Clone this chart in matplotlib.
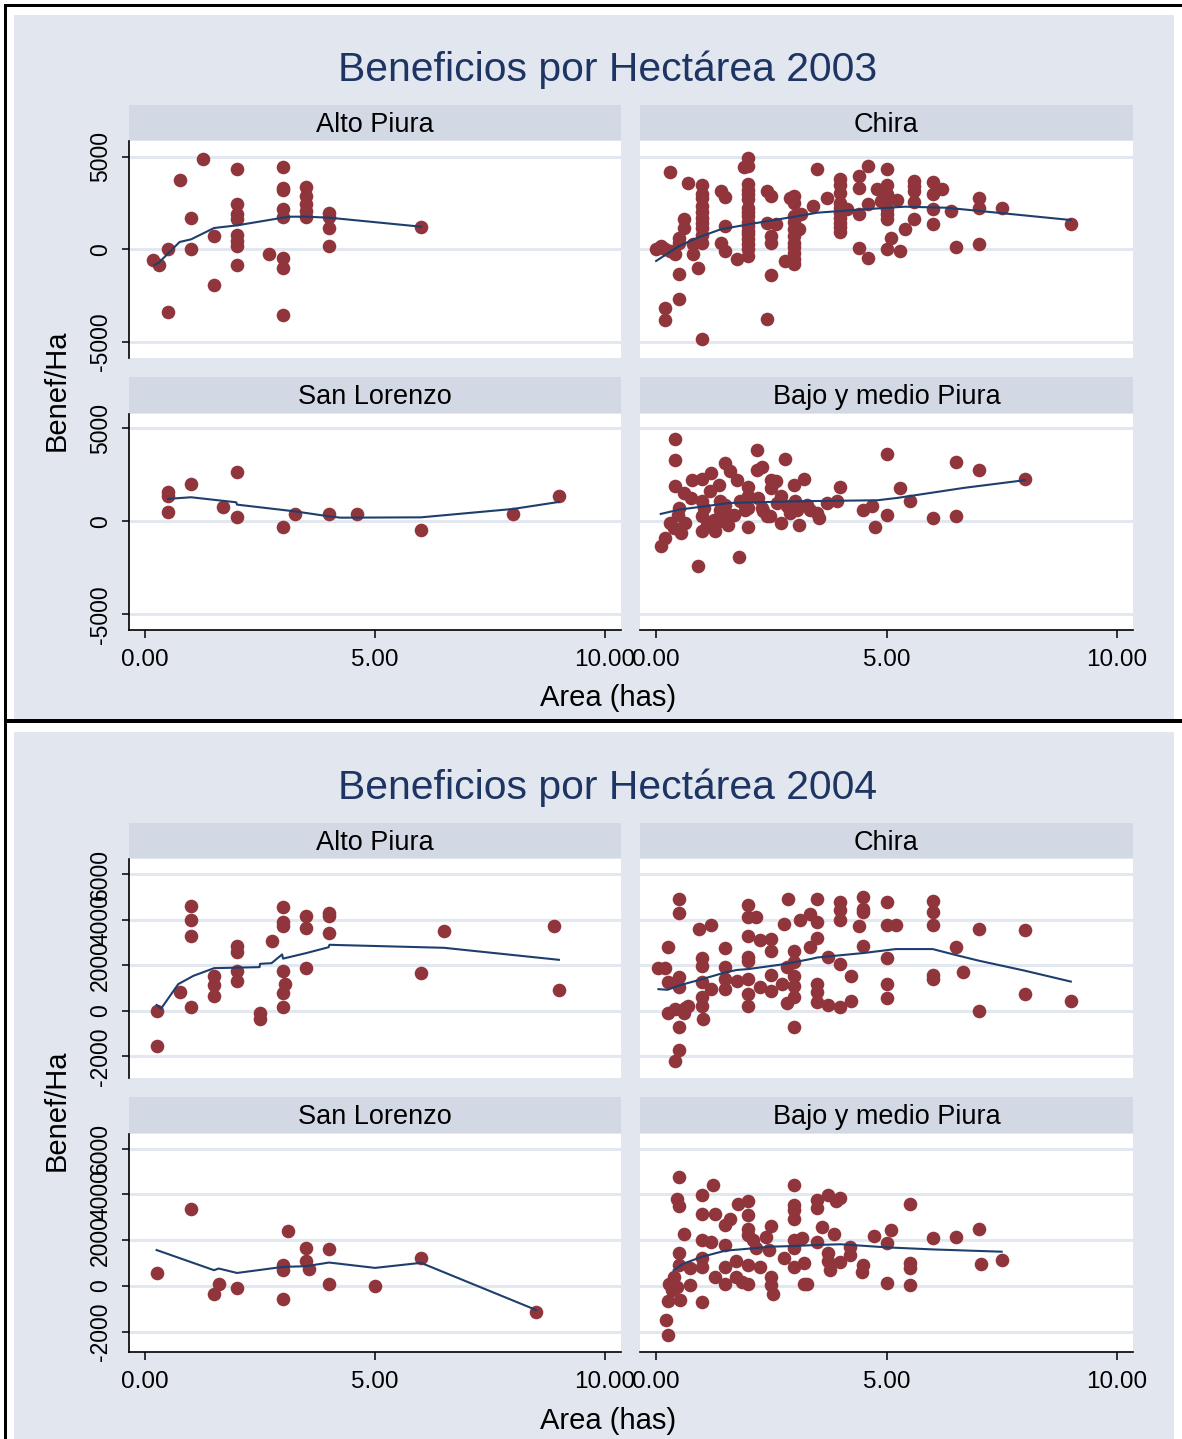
import matplotlib
matplotlib.use('Agg')
import matplotlib.pyplot as plt
from matplotlib.patches import Rectangle

plt.rcParams['font.family'] = ['Liberation Sans', 'DejaVu Sans']

# ---------------- DATA ----------------
regions = ["Alto Piura", "Chira", "San Lorenzo", "Bajo y medio Piura"]
titles = ["Beneficios por Hectárea 2003", "Beneficios por Hectárea 2004"]
xtick_vals = [0, 5, 10]
xtick_labels = ["0.00", "5.00", "10.00"]
yticks_2003 = [-5000, 0, 5000]
yticks_2004 = [-2000, 0, 2000, 4000, 6000]

# 2003 - Alto Piura
ap03_x = [1.25, 0.75, 2, 3, 3, 3, 3.5, 3.5, 3.5, 3.5, 3.5, 2, 2, 2, 3, 3, 1, 4, 4, 4, 4, 6,
          1.5, 2, 2, 2, 0.5, 1, 0.17, 0.3, 2, 2.7, 3, 3, 1.5, 0.5, 3]
ap03_y = [4865, 3730, 4324, 4450, 3333, 3200, 3387, 2883, 2432, 2072, 1765, 2432, 1892, 1658,
          2162, 1765, 1694, 1982, 1765, 1171, 180, 1225, 721, 757, 450, 180, 36, 36, -577, -865,
          -847, -270, -450, -991, -1946, -3405, -3550]
ap03_fx = [0.2, 0.3, 0.75, 1.0, 1.5, 2.0, 3.0, 3.15, 3.5, 4.0, 6.0]
ap03_fy = [-850, -720, 396, 540, 1153, 1297, 1712, 1765, 1765, 1712, 1225]

# 2003 - Chira
ch03_x = [0.3, 0.7, 1.0, 1.4, 1.5, 1.0, 1.0, 1.0, 1.0, 1.0, 0.6, 0.6, 0.5, 0.5, 0.0, 0.1, 0.2,
          0.3, 0.4, 0.8, 0.8, 0.5, 0.9, 0.5, 0.2, 0.2, 1.0, 1.4, 1.5, 1.5, 1.75, 2.0, 1.9, 2.0,
          2.0, 2.0, 2.0, 2.0, 2.0, 2.0, 2.0, 2.0, 2.4, 2.5, 2.4, 2.5, 2.5, 2.6, 2.5, 2.4, 2.8,
          3.0, 2.9, 3.0, 3.0, 3.0, 3.0, 3.0, 3.15, 3.1, 3.4, 3.5, 3.7, 4.0, 4.0, 4.0, 4.0, 4.0,
          4.0, 4.15, 4.4, 4.4, 4.6, 4.6, 4.4, 4.4, 4.6, 4.8, 5.0, 5.0, 5.0, 5.0, 5.0, 4.87, 5.23,
          5.1, 5.4, 5.0, 5.3, 5.6, 5.6, 5.6, 5.6, 6.0, 6.0, 6.0, 6.0, 6.2, 6.4, 6.5, 7.0, 7.0,
          7.0, 7.5, 9.0,
          2.0, 2.0, 2.0, 2.0, 2.0, 2.0, 2.0, 1.0, 1.0, 1.0, 1.0, 3.0, 3.0, 3.0, 3.0, 3.0,
          4.0, 4.0, 4.0, 4.0, 5.0, 5.0, 5.6]
ch03_y = [4180, 3603, 3459, 3153, 2850, 2790, 2340, 1710, 1170, 360, 1622, 1170, 630, 360, 40,
          180, 0, -90, -270, -270, 270, -1351, -991, -2703, -3153, -3820, -4829, 360, -90, 1260,
          -505, 4955, 4480, 4504, 3510, 2970, 2250, 1802, 1260, 811, 270, -360, 3153, 2883, 1440,
          721, 360, 1351, -1405, -3784, -630, 2883, 2760, 1802, 1081, 360, -180, -810, 1890, 1110,
          2340, 4360, 2790, 3820, 3060, 2520, 1982, 1440, 937, 2200, 3960, 3330, 4504, 2432, 1890,
          90, -450, 3279, 4360, 3500, 2700, 2160, 1660, 2610, 2650, 630, 1081, 40, -90, 3710, 3160,
          2560, 1622, 3650, 2970, 2162, 1351, 3279, 2070, 130, 2790, 2250, 270, 2250, 1351,
          3200, 2700, 2000, 1500, 1000, 550, 0, 3000, 2000, 1450, 800, 2500, 1500, 700, 100, -500,
          3500, 2250, 1700, 1200, 3000, 1900, 3400]
ch03_fx = [0.0, 0.5, 0.9, 1.4, 2.0, 3.0, 3.5, 4.5, 5.4, 6.3, 7.4, 9.0]
ch03_fy = [-631, 180, 630, 1081, 1351, 1765, 1982, 2162, 2306, 2250, 1982, 1585]

# 2003 - San Lorenzo
sl03_x = [0.5, 0.5, 0.5, 1.0, 2.0, 1.7, 2.0, 3.0, 3.25, 4.0, 4.6, 6.0, 8.0, 9.0]
sl03_y = [1568, 1351, 487, 2037, 2649, 775, 236, -324, 378, 414, 414, -486, 378, 1351]
sl03_fx = [0.5, 1.0, 1.98, 2.0, 3.25, 4.0, 4.25, 6.0, 8.0, 9.0]
sl03_fy = [1210, 1297, 1027, 900, 540, 270, 198, 216, 667, 1045]

# 2003 - Bajo y medio Piura
bm03_x = [0.4, 0.4, 0.4, 0.1, 0.2, 0.3, 0.5, 0.55, 0.63, 0.6, 0.75, 0.77, 1.0, 1.2, 0.9, 1.0,
          1.0, 1.0, 1.17, 1.28, 1.25, 1.36, 1.5, 1.6, 1.5, 1.57, 1.75, 1.68, 1.8, 2.0, 2.0, 1.93,
          2.0, 2.2, 2.2, 2.3, 2.22, 2.33, 2.4, 2.5, 2.5, 2.6, 2.7, 2.7, 2.8, 2.84, 3.0, 3.02, 3.1,
          3.2, 3.27, 3.53, 3.7, 3.93, 4.0, 4.5, 4.76, 4.69, 5.0, 5.0, 5.3, 5.5, 6.0, 6.5, 6.5,
          7.0, 8.0,
          1.03, 1.1, 1.39, 1.39, 1.82, 2.0, 2.3, 2.48, 2.62, 2.91, 3.05, 3.35, 3.5, 0.48, 0.38,
          1.39, 1.61]
bm03_y = [4450, 3297, 1928, -1315, -900, -90, 721, -627, -90, 1535, 1260, 2252, 2300, 2613,
          -2395, -540, 270, 1081, 1622, -540, 90, 1960, 3117, 2700, 901, -180, 2250, 360, -1925,
          1850, 1351, 630, -324, 3838, 2776, 2950, 1260, 540, 270, 2250, 1802, 2160, 1351, -90,
          3370, 811, 1964, 1081, -180, 2300, 900, 180, 990, 1081, 1838, 630, -324, 810, 360, 3640,
          1802, 1081, 180, 3189, 270, 2739, 2290,
          721, -180, 630, 0, 1081, 721, 721, 270, 1000, 450, 630, 630, 450, 360, -360, 1081, 360]
bm03_fx = [0.1, 0.5, 1.6, 3.05, 4.8, 5.23, 6.68, 8.0]
bm03_fy = [400, 630, 990, 1081, 1135, 1260, 1802, 2216]

# 2004 - Alto Piura
ap04_x = [0.25, 0.25, 0.75, 1.0, 1.0, 1.0, 1.0, 1.5, 1.5, 1.5, 2.0, 2.0, 2.0, 2.0, 2.5, 2.5,
          2.75, 3.0, 3.0, 3.0, 3.0, 3.05, 3.0, 3.0, 3.5, 3.5, 3.5, 4.0, 4.0, 4.0, 6.0, 6.5, 8.9,
          9.0]
ap04_y = [18, -1524, 853, 4598, 4008, 3290, 176, 1542, 1145, 660, 2835, 2600, 1749, 1295, -70,
          -335, 3057, 4555, 3894, 3718, 1749, 1189, 780, 194, 4185, 3643, 1868, 4304, 4158, 3409,
          1660, 3524, 3718, 898]
ap04_fx = [0.25, 0.35, 0.72, 1.05, 1.5, 2.49, 2.5, 2.75, 2.98, 3.0, 3.5, 3.99, 4.01, 6.5, 9.0]
ap04_fy = [260, 106, 1176, 1542, 1880, 1925, 2070, 2100, 2484, 2300, 2540, 2800, 2907, 2775,
           2247]

# 2004 - Chira
ch04_x = [0.5, 0.5, 0.05, 0.2, 0.25, 0.25, 0.25, 0.5, 0.5, 0.4, 0.5, 0.5, 0.4, 0.63, 0.7, 0.6,
          0.93, 1.0, 1.0, 1.0, 1.0, 1.0, 1.02, 1.2, 1.2, 1.5, 1.5, 1.5, 1.5, 1.75, 2.0, 2.0, 2.0,
          2.0, 2.0, 2.0, 2.0, 2.0, 2.17, 2.26, 2.26, 2.5, 2.5, 2.5, 2.5, 2.73, 2.78, 2.87, 2.85,
          2.85, 3.0, 3.0, 3.0, 3.0, 3.0, 3.0, 3.13, 3.35, 3.35, 3.5, 3.5, 3.5, 3.5, 3.5, 3.5,
          3.74, 3.74, 4.0, 4.0, 4.0, 4.0, 4.0, 4.24, 4.24, 4.4, 4.5, 4.5, 4.5, 4.5, 5.0, 5.0, 5.2,
          5.0, 5.0, 5.0, 6.0, 6.0, 6.0, 6.0, 6.0, 6.5, 6.65, 7.0, 7.0, 8.0, 8.0, 9.0]
ch04_y = [4920, 4304, 1868, 1868, 2793, 1251, -70, 1470, 1070, 70, -687, -1718, -2203, 150, 220,
          -70, 3600, 2308, 1980, 1251, 590, 220, -335, 3780, 956, 2750, 1910, 1400, 956, 1320,
          4650, 4113, 3277, 2350, 2200, 1400, 737, 220, 4113, 3130, 1030, 3158, 2643, 1570, 880,
          1176, 3819, 4920, 1910, 367, 2643, 2130, 1545, 1100, 590, -687, 4008, 4260, 2793, 4920,
          3920, 3190, 1176, 810, 400, 2390, 250, 4800, 4450, 4008, 2057, 194, 1516, 440, 3718,
          4990, 4480, 4330, 2863, 4800, 3780, 3780, 2308, 1200, 560, 4850, 4360, 3780, 1570, 1420,
          2793, 1692, 3600, 0, 3570, 737, 440]
ch04_fx = [0.05, 0.25, 0.5, 1.0, 1.5, 1.75, 2.0, 2.78, 3.35, 3.5, 4.5, 5.2, 6.0, 6.5, 7.0, 8.0,
           9.0]
ch04_fy = [956, 930, 1120, 1400, 1692, 1800, 1840, 2057, 2280, 2350, 2545, 2720, 2720, 2460,
           2210, 1770, 1290]

# 2004 - San Lorenzo
sl04_x = [0.25, 1.0, 1.6, 1.5, 2.0, 3.0, 3.0, 3.1, 3.0, 3.5, 3.5, 3.57, 4.0, 4.0, 5.0, 6.0, 8.5]
sl04_y = [590, 3379, 75, -366, -70, 912, 692, 2423, -573, 1674, 1088, 766, 1603, 75, 18, 1207,
          -1115]
sl04_fx = [0.25, 1.5, 1.6, 2.0, 3.0, 3.5, 4.0, 5.0, 6.0, 8.5]
sl04_fy = [1573, 692, 766, 572, 837, 866, 1027, 793, 1013, -1042]

# 2004 - Bajo y medio Piura
bm04_x = [0.5, 0.45, 0.5, 0.6, 0.5, 0.5, 0.38, 0.27, 0.34, 0.45, 0.25, 0.52, 0.21, 0.25, 0.74,
          0.74, 1.0, 1.0, 1.0, 1.0, 1.0, 1.0, 1.19, 1.24, 1.28, 1.28, 1.5, 1.5, 1.6, 1.5, 1.5,
          1.74, 1.77, 1.74, 1.87, 2.0, 2.0, 2.0, 2.0, 2.0, 2.0, 2.1, 2.17, 2.26, 2.39, 2.46, 2.5,
          2.5, 2.5, 2.53, 2.77, 3.0, 3.0, 3.0, 3.0, 3.0, 3.0, 3.0, 3.17, 3.2, 3.2, 3.27, 3.5, 3.5,
          3.6, 3.5, 3.74, 3.9, 4.0, 3.86, 3.74, 3.74, 3.78, 4.0, 4.2, 4.2, 4.5, 4.47, 4.73, 5.0,
          5.1, 5.0, 5.5, 5.5, 5.5, 5.5, 6.0, 6.5, 7.0, 7.05, 7.5]
bm04_y = [4757, 3810, 3510, 2277, 1456, 912, 396, 103, -189, -45, -660, -590, -1470, -2128, 810,
          31, 3960, 3158, 1990, 1235, 840, -705, 1938, 4392, 3140, 396, 1795, 2674, 2925, 840, 103,
          1100, 3600, 396, 176, 3700, 3115, 2480, 2230, 912, 103, 2015, 1640, 840, 2160, 1573,
          2630, 396, 31, -366, 1207, 4392, 3555, 3335, 2925, 2015, 1645, 840, 2088, 985, 75, 75,
          3770, 3410, 2600, 1938, 3995, 3700, 3850, 2277, 1427, 1100, 720, 1057, 1340, 1720, 912,
          617, 2189, 1865, 2454, 132, 3600, 985, 810, 31, 2088, 2160, 2480, 955, 1130]
bm04_fx = [0.38, 0.6, 1.0, 1.5, 2.0, 2.5, 3.0, 3.5, 4.0, 5.0, 5.5, 6.0, 7.5]
bm04_fy = [692, 985, 1280, 1545, 1630, 1720, 1749, 1795, 1825, 1690, 1645, 1600, 1500]

# ---------------- STYLE ----------------
W, H = 1182, 1439
BG = "#E1E6EF"
STRIP = "#D3D9E4"
GRID = "#E2E7F0"
MAROON = "#90353B"
NAVY = "#1E3F6E"
TITLE_C = "#1E3564"

fig = plt.figure(figsize=(W / 100, H / 100), dpi=100)
fig.patch.set_facecolor("white")


def rect(x0, y0, x1, y1, color, z=-1):
    fig.add_artist(Rectangle((x0 / W, 1 - y1 / H), (x1 - x0) / W, (y1 - y0) / H,
                             transform=fig.transFigure, facecolor=color,
                             edgecolor="none", zorder=z))


def panel(col, strip, plot, name, xs, ys, fx, fy, ylim, yticks, left, bottom):
    x0, x1 = col
    rect(x0, strip[0], x1, strip[1], STRIP, z=-0.5)
    fig.text((x0 + x1) / 2 / W, 1 - ((strip[0] + strip[1]) / 2 + 2) / H, name,
             ha="center", va="center", fontsize=19.5, color="black")
    ax = fig.add_axes([x0 / W, 1 - plot[1] / H, (x1 - x0) / W, (plot[1] - plot[0]) / H])
    ax.set_facecolor("white")
    ax.set_xlim(-0.35, 10.35)
    ax.set_ylim(*ylim)
    for t in yticks:
        ax.axhline(t, color=GRID, lw=2.2, zorder=1)
    ax.plot(xs, ys, "o", ms=9.8, mfc=MAROON, mec="none", zorder=3)
    ax.plot(fx, fy, "-", color=NAVY, lw=1.5, zorder=4)
    for s in ax.spines.values():
        s.set_visible(False)
    ax.set_yticks(yticks)
    ax.set_xticks(xtick_vals)
    if left:
        ax.spines["left"].set_visible(True)
        ax.spines["left"].set_linewidth(1.2)
        ax.set_yticklabels([str(t) for t in yticks], rotation=90, va="center")
        ax.tick_params(axis="y", length=5, width=1.1, pad=7, labelsize=16.5)
    else:
        ax.tick_params(axis="y", left=False, labelleft=False)
    if bottom:
        ax.spines["bottom"].set_visible(True)
        ax.spines["bottom"].set_linewidth(1.2)
        ax.set_xticklabels(xtick_labels)
        ax.tick_params(axis="x", length=6, width=1.1, pad=7.5, labelsize=17.5)
    else:
        ax.tick_params(axis="x", bottom=False, labelbottom=False)
    return ax


LEFT = (129, 621)
RIGHT = (640, 1133)

# backgrounds and borders
rect(14, 15, 1174, 719, BG)
rect(14, 732, 1174, 1439, BG)
rect(4, 4, 1182, 7, "black", z=5)
rect(4, 4, 7, 1439, "black", z=5)
rect(4, 719, 1182, 723, "black", z=5)

# ---- Graph 2003 ----
g1_rows = [((105, 140), (141, 358)), ((377, 413), (414, 630))]
ylim03 = [(-5880, 5860), (-5850, 5780)]
fig.text(608 / W, 1 - 70 / H, titles[0], ha="center", va="center", fontsize=29.4, color=TITLE_C)
panel(LEFT, *g1_rows[0], regions[0], ap03_x, ap03_y, ap03_fx, ap03_fy, ylim03[0], yticks_2003, True, False)
panel(RIGHT, *g1_rows[0], regions[1], ch03_x, ch03_y, ch03_fx, ch03_fy, ylim03[0], yticks_2003, False, False)
panel(LEFT, *g1_rows[1], regions[2], sl03_x, sl03_y, sl03_fx, sl03_fy, ylim03[1], yticks_2003, True, True)
panel(RIGHT, *g1_rows[1], regions[3], bm03_x, bm03_y, bm03_fx, bm03_fy, ylim03[1], yticks_2003, False, True)
fig.text(608 / W, 1 - 698 / H, "Area (has)", ha="center", va="center", fontsize=21)
fig.text(57 / W, 1 - 390 / H, "Benef/Ha", ha="center", va="center", rotation=90, fontsize=21)

# ---- Graph 2004 ----
g2_rows = [((823, 858), (859, 1078)), ((1097, 1133), (1134, 1352))]
ylim04 = [(-2950, 6680), (-2880, 6640)]
fig.text(608 / W, 1 - 788 / H, titles[1], ha="center", va="center", fontsize=29.4, color=TITLE_C)
panel(LEFT, *g2_rows[0], regions[0], ap04_x, ap04_y, ap04_fx, ap04_fy, ylim04[0], yticks_2004, True, False)
panel(RIGHT, *g2_rows[0], regions[1], ch04_x, ch04_y, ch04_fx, ch04_fy, ylim04[0], yticks_2004, False, False)
panel(LEFT, *g2_rows[1], regions[2], sl04_x, sl04_y, sl04_fx, sl04_fy, ylim04[1], yticks_2004, True, True)
panel(RIGHT, *g2_rows[1], regions[3], bm04_x, bm04_y, bm04_fx, bm04_fy, ylim04[1], yticks_2004, False, True)
fig.text(608 / W, 1 - 1421 / H, "Area (has)", ha="center", va="center", fontsize=21)
fig.text(57 / W, 1 - 1110 / H, "Benef/Ha", ha="center", va="center", rotation=90, fontsize=21)

fig.savefig("out.png", dpi=100, facecolor="white")
